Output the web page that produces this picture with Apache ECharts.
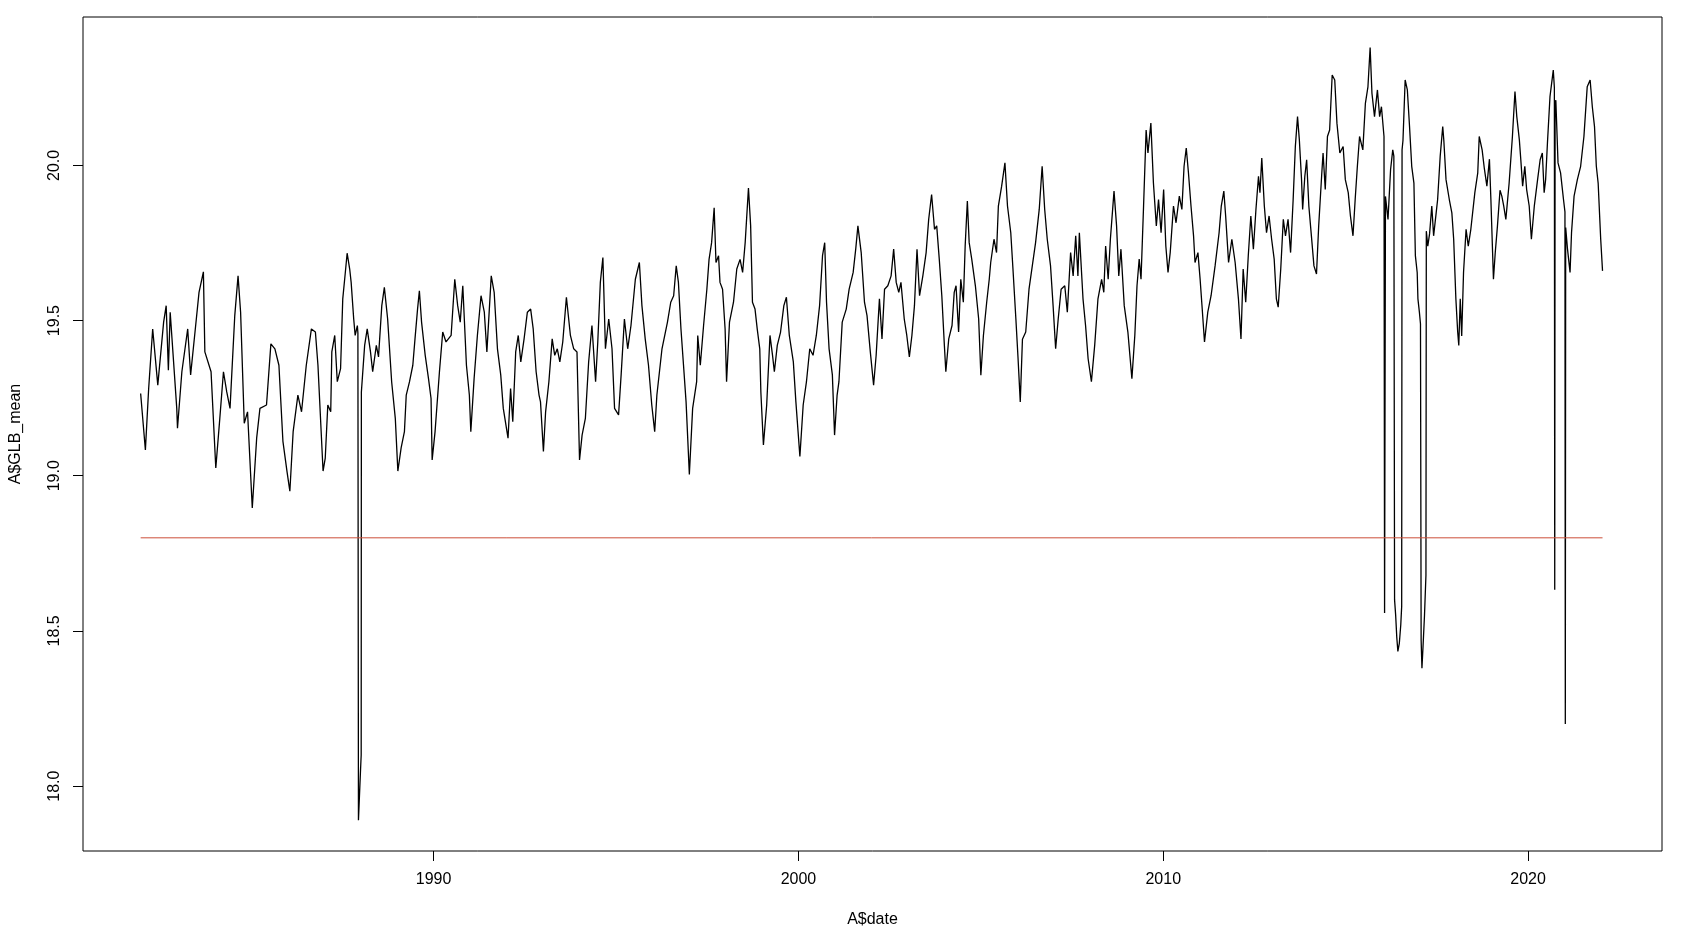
<!DOCTYPE html>
<html>
<head>
<meta charset="utf-8">
<script src="https://cdn.jsdelivr.net/npm/echarts@6/dist/echarts.min.js"></script>
<style>html,body{margin:0;padding:0;background:#fff;}#chart{width:1682px;height:933px;}</style>
</head>
<body>
<div id="chart"></div>
<script>
// decimal years (A$date)
const years = [
1981.97,1982.10,1982.19,1982.30,1982.44,1982.60,1982.67,1982.73,1982.78,1982.96,1982.98,1983.10,1983.26,1983.34,1983.46,1983.57,1983.69,1983.73,1983.90,
1984.03,1984.14,1984.24,1984.33,1984.42,1984.55,1984.64,1984.71,1984.81,1984.90,1985.03,1985.15,1985.24,1985.42,1985.54,1985.65,1985.76,1985.87,1985.98,
1986.06,1986.15,1986.28,1986.38,1986.51,1986.65,1986.76,1986.83,1986.97,1987.03,1987.10,1987.18,1987.21,1987.29,1987.36,1987.45,1987.51,1987.58,1987.63,
1987.70,1987.74,1987.81,1987.85,1987.91,1987.925,1987.94,1988.00,1988.015,1988.02,1988.11,1988.18,1988.27,1988.33,1988.43,1988.49,1988.58,1988.65,1988.74,
1988.85,1988.95,1989.02,1989.11,1989.20,1989.25,1989.34,1989.43,1989.49,1989.56,1989.61,1989.67,1989.77,1989.86,1989.93,1989.96,1990.04,1990.16,1990.25,
1990.34,1990.48,1990.58,1990.66,1990.73,1990.80,1990.90,1990.98,1991.02,1991.11,1991.20,1991.30,1991.39,1991.46,1991.58,1991.66,1991.75,1991.84,1991.91,
1992.04,1992.11,1992.17,1992.25,1992.32,1992.39,1992.48,1992.57,1992.66,1992.73,1992.81,1992.89,1992.93,1993.01,1993.07,1993.16,1993.25,1993.32,1993.39,
1993.46,1993.54,1993.64,1993.75,1993.84,1993.93,1994.00,1994.07,1994.16,1994.25,1994.34,1994.44,1994.50,1994.57,1994.64,1994.71,1994.80,1994.89,1994.96,
1995.07,1995.14,1995.23,1995.32,1995.41,1995.53,1995.64,1995.71,1995.80,1995.89,1995.98,1996.06,1996.12,1996.26,1996.41,1996.50,1996.58,1996.65,1996.71,
1996.78,1996.85,1996.92,1997.01,1997.10,1997.21,1997.24,1997.31,1997.40,1997.49,1997.55,1997.62,1997.69,1997.74,1997.81,1997.85,1997.92,1997.99,1998.03,
1998.11,1998.22,1998.31,1998.40,1998.47,1998.54,1998.63,1998.69,1998.74,1998.81,1998.87,1998.94,1998.97,1999.04,1999.13,1999.22,1999.29,1999.34,1999.42,
1999.51,1999.60,1999.67,1999.75,1999.86,1999.93,2000.04,2000.13,2000.22,2000.31,2000.40,2000.49,2000.58,2000.66,2000.72,2000.77,2000.84,2000.93,2000.99,
2001.06,2001.11,2001.20,2001.31,2001.39,2001.50,2001.57,2001.63,2001.72,2001.81,2001.88,2001.97,2002.06,2002.13,2002.22,2002.29,2002.36,2002.45,2002.54,
2002.61,2002.68,2002.75,2002.81,2002.90,2002.97,2003.04,2003.11,2003.18,2003.25,2003.32,2003.41,2003.50,2003.57,2003.65,2003.73,2003.79,2003.86,2003.93,
2004.00,2004.04,2004.12,2004.21,2004.27,2004.32,2004.39,2004.45,2004.52,2004.57,2004.63,2004.68,2004.75,2004.85,2004.94,2005.00,2005.07,2005.16,2005.23,
2005.27,2005.36,2005.43,2005.48,2005.57,2005.66,2005.73,2005.82,2005.88,2005.96,2006.02,2006.08,2006.14,2006.23,2006.32,2006.41,2006.50,2006.60,2006.68,
2006.75,2006.82,2006.91,2006.98,2007.05,2007.12,2007.20,2007.30,2007.37,2007.46,2007.53,2007.60,2007.66,2007.70,2007.80,2007.87,2007.94,2008.03,2008.12,
2008.21,2008.31,2008.37,2008.42,2008.49,2008.55,2008.65,2008.72,2008.78,2008.84,2008.93,2009.03,2009.14,2009.22,2009.28,2009.34,2009.39,2009.46,2009.53,
2009.58,2009.66,2009.73,2009.81,2009.87,2009.94,2010.01,2010.07,2010.13,2010.19,2010.28,2010.35,2010.44,2010.51,2010.57,2010.63,2010.69,2010.76,2010.83,
2010.87,2010.95,2011.01,2011.06,2011.13,2011.22,2011.31,2011.42,2011.53,2011.59,2011.66,2011.71,2011.79,2011.88,2011.97,2012.06,2012.13,2012.19,2012.26,
2012.33,2012.40,2012.47,2012.54,2012.61,2012.65,2012.70,2012.77,2012.83,2012.90,2012.97,2013.04,2013.10,2013.15,2013.22,2013.29,2013.35,2013.42,2013.49,
2013.56,2013.62,2013.68,2013.73,2013.79,2013.82,2013.88,2013.93,2013.99,2014.06,2014.13,2014.20,2014.26,2014.34,2014.38,2014.44,2014.50,2014.56,2014.63,
2014.70,2014.76,2014.84,2014.93,2014.99,2015.07,2015.13,2015.20,2015.26,2015.32,2015.38,2015.47,2015.54,2015.61,2015.67,2015.72,2015.79,2015.87,2015.93,
2015.98,2016.05,2016.066,2016.09,2016.16,2016.23,2016.29,2016.32,2016.34,2016.37,2016.40,2016.43,2016.47,2016.51,2016.535,2016.545,2016.57,2016.63,2016.69,
2016.75,2016.81,2016.87,2016.91,2016.96,2016.98,2017.02,2017.05,2017.068,2017.09,2017.12,2017.16,2017.20,2017.21,2017.25,2017.30,2017.36,2017.41,2017.48,
2017.52,2017.59,2017.66,2017.69,2017.75,2017.84,2017.91,2017.96,2018.02,2018.07,2018.10,2018.14,2018.18,2018.23,2018.30,2018.36,2018.43,2018.48,2018.54,
2018.62,2018.66,2018.74,2018.80,2018.87,2018.94,2018.98,2019.05,2019.10,2019.16,2019.23,2019.28,2019.33,2019.39,2019.48,2019.57,2019.64,2019.69,2019.76,
2019.80,2019.85,2019.91,2019.96,2020.03,2020.09,2020.17,2020.26,2020.33,2020.39,2020.44,2020.48,2020.53,2020.60,2020.69,2020.72,2020.73,2020.74,2020.76,
2020.82,2020.89,2020.97,2021.01,2021.02,2021.03,2021.08,2021.15,2021.19,2021.26,2021.35,2021.44,2021.53,2021.62,2021.70,2021.76,2021.82,2021.87,2021.92,
2021.99,2022.04
];
// A$GLB_mean values
const glbMean = [
19.265,19.083,19.281,19.473,19.292,19.495,19.548,19.340,19.527,19.217,19.153,19.335,19.473,19.325,19.463,19.591,19.657,19.399,19.335,
19.025,19.185,19.335,19.270,19.217,19.516,19.644,19.527,19.169,19.206,18.896,19.121,19.217,19.228,19.425,19.409,19.356,19.111,19.015,
18.950,19.142,19.260,19.206,19.356,19.473,19.463,19.356,19.015,19.057,19.228,19.206,19.399,19.452,19.303,19.345,19.570,19.655,19.717,
19.666,19.623,19.505,19.452,19.484,19.460,17.890,18.060,18.100,19.270,19.420,19.473,19.399,19.335,19.420,19.383,19.548,19.607,19.505,
19.303,19.185,19.015,19.090,19.142,19.260,19.303,19.356,19.441,19.537,19.596,19.495,19.388,19.313,19.249,19.051,19.142,19.335,19.463,
19.431,19.452,19.633,19.548,19.495,19.612,19.356,19.260,19.142,19.313,19.452,19.580,19.527,19.399,19.644,19.591,19.409,19.325,19.217,
19.121,19.281,19.174,19.399,19.452,19.367,19.441,19.527,19.537,19.473,19.335,19.260,19.238,19.078,19.206,19.303,19.441,19.388,19.409,
19.367,19.431,19.575,19.452,19.409,19.399,19.051,19.131,19.185,19.367,19.484,19.303,19.431,19.623,19.703,19.409,19.505,19.409,19.217,
19.196,19.325,19.505,19.409,19.484,19.633,19.687,19.548,19.441,19.356,19.228,19.142,19.260,19.409,19.495,19.559,19.580,19.676,19.623,
19.473,19.356,19.238,19.004,19.217,19.303,19.452,19.356,19.484,19.601,19.697,19.751,19.863,19.687,19.709,19.623,19.601,19.473,19.303,
19.495,19.559,19.666,19.697,19.655,19.751,19.927,19.805,19.559,19.537,19.473,19.409,19.270,19.099,19.228,19.452,19.388,19.335,19.420,
19.463,19.548,19.575,19.452,19.367,19.238,19.062,19.228,19.303,19.409,19.388,19.452,19.548,19.709,19.751,19.559,19.409,19.325,19.131,
19.260,19.303,19.495,19.537,19.601,19.655,19.730,19.805,19.719,19.559,19.516,19.399,19.292,19.388,19.570,19.441,19.601,19.612,19.644,
19.730,19.623,19.591,19.623,19.505,19.452,19.383,19.452,19.548,19.730,19.580,19.644,19.719,19.826,19.906,19.794,19.805,19.698,19.580,
19.420,19.335,19.441,19.484,19.591,19.612,19.463,19.633,19.559,19.740,19.885,19.751,19.698,19.612,19.505,19.324,19.452,19.559,19.633,
19.687,19.762,19.719,19.869,19.933,20.008,19.869,19.783,19.666,19.505,19.377,19.238,19.440,19.463,19.601,19.676,19.751,19.858,19.997,
19.858,19.762,19.676,19.548,19.409,19.505,19.601,19.612,19.527,19.719,19.644,19.773,19.644,19.783,19.570,19.484,19.377,19.303,19.420,
19.570,19.633,19.591,19.740,19.633,19.762,19.917,19.805,19.644,19.730,19.548,19.463,19.313,19.452,19.612,19.698,19.633,19.869,20.114,
20.040,20.136,19.943,19.805,19.890,19.783,19.922,19.740,19.655,19.719,19.869,19.815,19.901,19.858,19.997,20.056,19.976,19.869,19.773,
19.687,19.719,19.633,19.550,19.431,19.527,19.580,19.676,19.783,19.869,19.917,19.837,19.687,19.762,19.687,19.570,19.441,19.666,19.559,
19.709,19.837,19.730,19.858,19.965,19.912,20.024,19.869,19.783,19.837,19.762,19.698,19.570,19.543,19.666,19.826,19.773,19.826,19.719,
19.890,20.061,20.157,20.082,19.954,19.858,19.965,20.018,19.869,19.773,19.676,19.650,19.805,19.965,20.040,19.922,20.093,20.114,20.291,
20.275,20.136,20.040,20.061,19.954,19.912,19.837,19.773,19.890,19.997,20.093,20.050,20.200,20.253,20.380,20.232,20.157,20.243,20.157,
20.189,20.093,18.558,19.900,19.826,19.986,20.050,20.030,18.600,18.550,18.480,18.434,18.460,18.520,18.580,20.050,20.080,20.275,20.243,
20.125,19.997,19.943,19.709,19.655,19.570,19.527,19.489,18.470,18.380,18.450,18.550,18.680,19.788,19.740,19.780,19.869,19.773,19.847,
19.890,20.029,20.125,20.080,19.954,19.890,19.847,19.762,19.570,19.463,19.420,19.570,19.450,19.655,19.794,19.740,19.794,19.800,19.912,
19.976,20.093,20.050,19.990,19.933,20.020,19.890,19.633,19.720,19.805,19.920,19.901,19.870,19.826,19.943,20.093,20.238,20.157,20.082,
20.018,19.933,19.997,19.922,19.869,19.762,19.869,19.954,20.018,20.040,19.912,19.954,20.072,20.222,20.307,20.250,18.633,20.200,20.210,
20.008,19.976,19.890,19.850,18.200,19.800,19.730,19.655,19.783,19.901,19.954,19.997,20.093,20.253,20.275,20.189,20.125,19.997,19.943,
19.762,19.660
];
const refLevel = 18.8;
const xTicks = [1990, 2000, 2010, 2020];
const yTicks = [18.0, 18.5, 19.0, 19.5, 20.0];

const font = "'Liberation Sans', Arial, Helvetica, sans-serif";
const chart = echarts.init(document.getElementById('chart'), null, {renderer: 'canvas'});
const lineData = years.map((y, i) => [y, glbMean[i]]);
const refData = [[years[0], refLevel], [years[years.length - 1], refLevel]];

chart.setOption({
  animation: false,
  backgroundColor: '#ffffff',
  grid: {left: 77, right: 20, top: 17, bottom: 78, show: true, borderColor: '#000', borderWidth: 1, backgroundColor: 'transparent'},
  xAxis: {
    type: 'value', min: 1980.39, max: 2023.67,
    axisLine: {show: false},
    splitLine: {show: false},
    axisTick: {show: true, customValues: xTicks, length: 10, lineStyle: {color: '#000', width: 1}},
    axisLabel: {customValues: xTicks, margin: 21, fontSize: 16, color: '#000', fontFamily: font, formatter: v => String(v)},
    name: 'A$date', nameLocation: 'middle', nameGap: 61,
    nameTextStyle: {fontSize: 16, color: '#000', fontFamily: font}
  },
  yAxis: {
    type: 'value', min: 17.791, max: 20.478,
    axisLine: {show: false},
    splitLine: {show: false},
    axisTick: {show: true, customValues: yTicks, length: 10, lineStyle: {color: '#000', width: 1}},
    axisLabel: {customValues: yTicks, rotate: 90, margin: 20, fontSize: 16, color: '#000', fontFamily: font, formatter: v => v.toFixed(1)},
    name: 'A$GLB_mean', nameLocation: 'middle', nameGap: 59, nameRotate: 90,
    nameTextStyle: {fontSize: 16, color: '#000', fontFamily: font}
  },
  series: [
    {type: 'line', data: lineData, showSymbol: false, symbol: 'none', lineStyle: {color: '#000', width: 1.3}, silent: true, z: 3},
    {type: 'line', data: refData, showSymbol: false, symbol: 'none', lineStyle: {color: '#cd4f39', width: 1}, silent: true, z: 4}
  ]
});
</script>
</body>
</html>
